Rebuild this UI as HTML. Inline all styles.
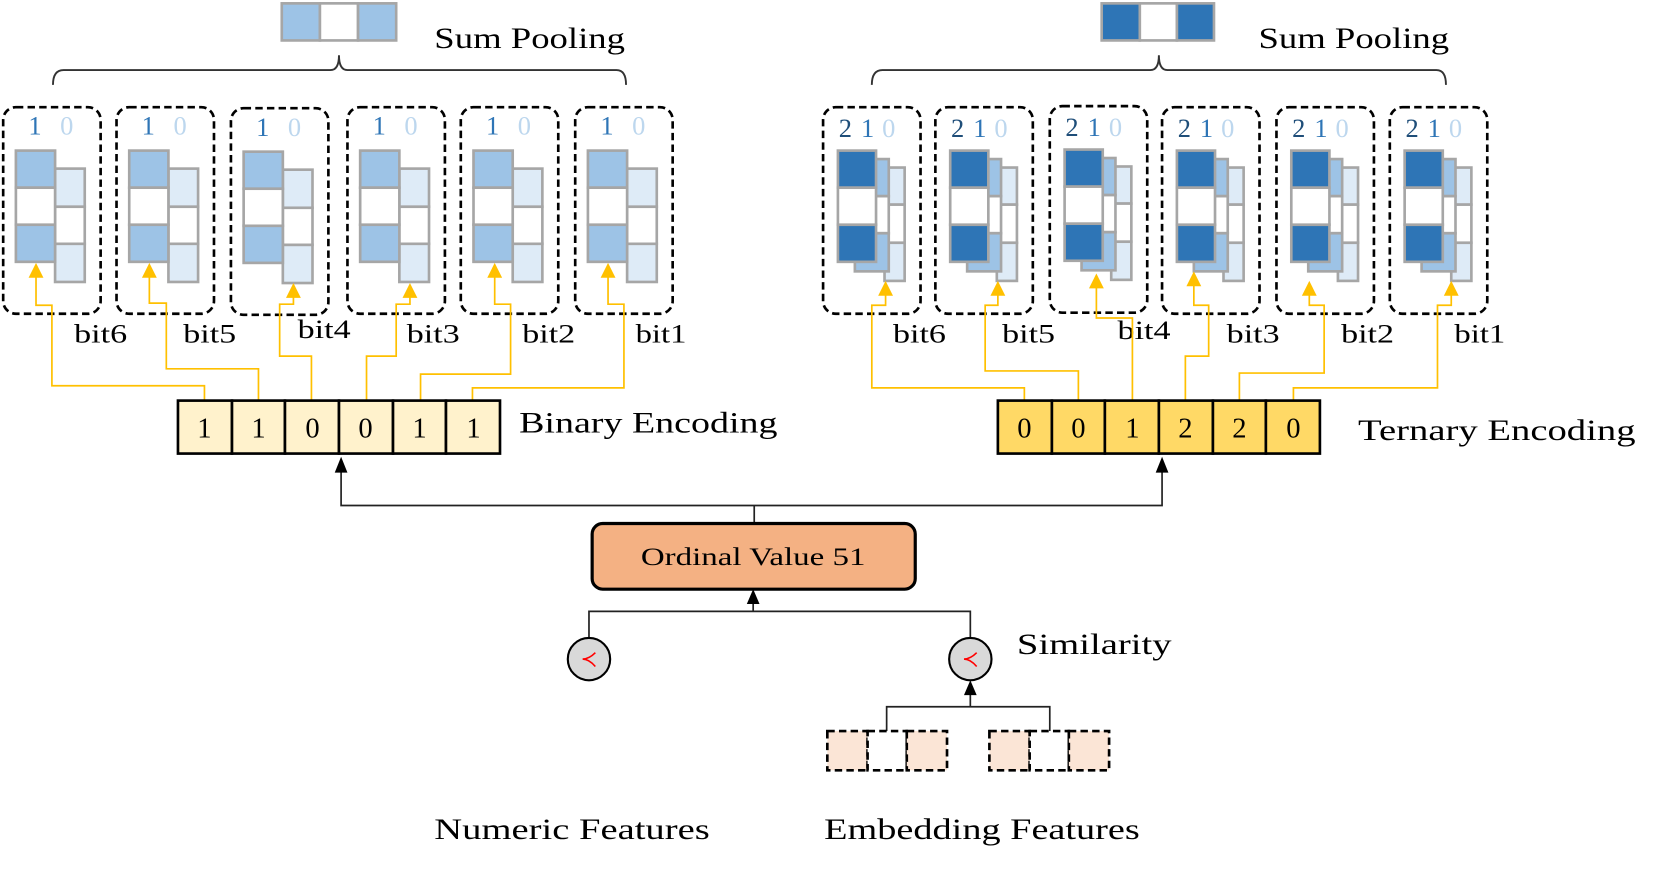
<!DOCTYPE html>
<html><head><meta charset="utf-8"><style>
html,body{margin:0;padding:0;background:#fff;}
svg{display:block;}
text{font-family:"Liberation Serif",serif;}
</style></head><body>
<svg width="1661" height="869" viewBox="0 0 1568 820" xmlns="http://www.w3.org/2000/svg">
<defs>
<g id="lp">
<rect x="0" y="0" width="92" height="195" rx="12" fill="none" stroke="#000" stroke-width="2.5" stroke-dasharray="7,4"/>
<rect x="49" y="58" width="28" height="36" fill="#deebf7" stroke="#a6a6a6" stroke-width="2.5"/>
<rect x="49" y="94" width="28" height="35" fill="#fff" stroke="#a6a6a6" stroke-width="2.5"/>
<rect x="49" y="129" width="28" height="36" fill="#deebf7" stroke="#a6a6a6" stroke-width="2.5"/>
<rect x="12" y="41" width="37" height="35" fill="#9dc3e6" stroke="#a6a6a6" stroke-width="2.5"/>
<rect x="12" y="76" width="37" height="35" fill="#fff" stroke="#a6a6a6" stroke-width="2.5"/>
<rect x="12" y="111" width="37" height="35" fill="#9dc3e6" stroke="#a6a6a6" stroke-width="2.5"/>
</g>
<g id="rp">
<rect x="0" y="0" width="92" height="195" rx="12" fill="none" stroke="#000" stroke-width="2.5" stroke-dasharray="7,4"/>
<rect x="58" y="57" width="19" height="35" fill="#deebf7" stroke="#a6a6a6" stroke-width="2.5"/>
<rect x="58" y="92" width="19" height="36" fill="#fff" stroke="#a6a6a6" stroke-width="2.5"/>
<rect x="58" y="128" width="19" height="36" fill="#deebf7" stroke="#a6a6a6" stroke-width="2.5"/>
<rect x="30" y="49" width="32" height="35" fill="#9dc3e6" stroke="#a6a6a6" stroke-width="2.5"/>
<rect x="30" y="84" width="32" height="35" fill="#fff" stroke="#a6a6a6" stroke-width="2.5"/>
<rect x="30" y="119" width="32" height="36" fill="#9dc3e6" stroke="#a6a6a6" stroke-width="2.5"/>
<rect x="14" y="41" width="36" height="35" fill="#2e75b6" stroke="#a6a6a6" stroke-width="2.5"/>
<rect x="14" y="76" width="36" height="35" fill="#fff" stroke="#a6a6a6" stroke-width="2.5"/>
<rect x="14" y="111" width="36" height="35" fill="#2e75b6" stroke="#a6a6a6" stroke-width="2.5"/>
</g>
<g id="d10"><text x="30" y="26" font-size="25" fill="#2e75b6" text-anchor="middle">1</text><text x="60" y="26" font-size="25" fill="#bdd7ee" text-anchor="middle">0</text></g>
<g id="d210"><text x="21" y="28" font-size="25" fill="#1f4e79" text-anchor="middle">2</text><text x="42" y="28" font-size="25" fill="#2e75b6" text-anchor="middle">1</text><text x="62" y="28" font-size="25" fill="#bdd7ee" text-anchor="middle">0</text></g>
</defs>

<rect x="266" y="3" width="36" height="35" fill="#9dc3e6" stroke="#a6a6a6" stroke-width="2.5"/>
<rect x="302" y="3" width="36" height="35" fill="#fff" stroke="#a6a6a6" stroke-width="2.5"/>
<rect x="338" y="3" width="36" height="35" fill="#9dc3e6" stroke="#a6a6a6" stroke-width="2.5"/>
<text x="410" y="45" font-size="28" textLength="180" lengthAdjust="spacingAndGlyphs">Sum Pooling</text>
<path d="M50 80 Q50 66 60 66 L312 66 Q320 66 320 52 Q320 66 328 66 L582 66 Q591 66 591 80" fill="none" stroke="#333" stroke-width="1.8"/>

<rect x="1040" y="3" width="36" height="35" fill="#2e75b6" stroke="#a6a6a6" stroke-width="2.5"/>
<rect x="1076" y="3" width="35" height="35" fill="#fff" stroke="#a6a6a6" stroke-width="2.5"/>
<rect x="1111" y="3" width="35" height="35" fill="#2e75b6" stroke="#a6a6a6" stroke-width="2.5"/>
<text x="1188" y="45" font-size="28" textLength="180" lengthAdjust="spacingAndGlyphs">Sum Pooling</text>
<path d="M823 80 Q823 66 833 66 L1086 66 Q1094 66 1094 52 Q1094 66 1102 66 L1356 66 Q1365 66 1365 80" fill="none" stroke="#333" stroke-width="1.8"/>

<g transform="translate(3,101)"><use href="#lp"/><use href="#d10"/></g>
<g transform="translate(110,101)"><use href="#lp"/><use href="#d10"/></g>
<g transform="translate(218,102)"><use href="#lp"/><use href="#d10"/></g>
<g transform="translate(328,101)"><use href="#lp"/><use href="#d10"/></g>
<g transform="translate(435,101)"><use href="#lp"/><use href="#d10"/></g>
<g transform="translate(543,101)"><use href="#lp"/><use href="#d10"/></g>

<g transform="translate(777,101)"><use href="#rp"/><use href="#d210"/></g>
<g transform="translate(883,101)"><use href="#rp"/><use href="#d210"/></g>
<g transform="translate(991,100)"><use href="#rp"/><use href="#d210"/></g>
<g transform="translate(1097,101)"><use href="#rp"/><use href="#d210"/></g>
<g transform="translate(1205,101)"><use href="#rp"/><use href="#d210"/></g>
<g transform="translate(1312,101)"><use href="#rp"/><use href="#d210"/></g>

<g font-size="25">
<text x="70" y="323" textLength="50" lengthAdjust="spacingAndGlyphs">bit6</text><text x="173" y="323" textLength="50" lengthAdjust="spacingAndGlyphs">bit5</text><text x="281" y="319" textLength="50" lengthAdjust="spacingAndGlyphs">bit4</text>
<text x="384" y="323" textLength="50" lengthAdjust="spacingAndGlyphs">bit3</text><text x="493" y="323" textLength="50" lengthAdjust="spacingAndGlyphs">bit2</text><text x="600" y="323" textLength="48" lengthAdjust="spacingAndGlyphs">bit1</text>
<text x="843" y="323" textLength="50" lengthAdjust="spacingAndGlyphs">bit6</text><text x="946" y="323" textLength="50" lengthAdjust="spacingAndGlyphs">bit5</text><text x="1055" y="320" textLength="50" lengthAdjust="spacingAndGlyphs">bit4</text>
<text x="1158" y="323" textLength="50" lengthAdjust="spacingAndGlyphs">bit3</text><text x="1266" y="323" textLength="50" lengthAdjust="spacingAndGlyphs">bit2</text><text x="1373" y="323" textLength="48" lengthAdjust="spacingAndGlyphs">bit1</text>
</g>

<g fill="none" stroke="#ffc000" stroke-width="1.6">
<path d="M193 378 V364 H49 V288 H34 V258"/>
<path d="M244 378 V348 H157 V286 H141 V258"/>
<path d="M294 378 V336 H264 V287 H277 V277"/>
<path d="M346 378 V336 H374 V287 H387 V277"/>
<path d="M397 378 V353 H482 V287 H467 V258"/>
<path d="M446 378 V366 H589 V287 H574 V258"/>
<path d="M967 378 V366 H823 V288 H836 V275"/>
<path d="M1018 378 V350 H930 V288 H942 V275"/>
<path d="M1069 378 V300 H1035 V268"/>
<path d="M1119 378 V336 H1141 V288 H1127 V266"/>
<path d="M1170 378 V352 H1250 V288 H1236 V275"/>
<path d="M1221 378 V366 H1357 V288 H1370 V275"/>
</g>
<g fill="#ffc000">
<polygon points="34,248 27,262 41,262"/><polygon points="141,248 134,262 148,262"/>
<polygon points="277,267 270,281 284,281"/><polygon points="387,267 380,281 394,281"/>
<polygon points="467,248 460,262 474,262"/><polygon points="574,248 567,262 581,262"/>
<polygon points="836,265 829,279 843,279"/><polygon points="942,265 935,279 949,279"/>
<polygon points="1035,258 1028,272 1042,272"/><polygon points="1127,256 1120,270 1134,270"/>
<polygon points="1236,265 1229,279 1243,279"/><polygon points="1370,265 1363,279 1377,279"/>
</g>

<g stroke="#000" stroke-width="2.5" fill="#fff2cc">
<rect x="168" y="378" width="51" height="50"/><rect x="219" y="378" width="50" height="50"/><rect x="269" y="378" width="51" height="50"/>
<rect x="320" y="378" width="51" height="50"/><rect x="371" y="378" width="50" height="50"/><rect x="421" y="378" width="51" height="50"/>
</g>
<g font-size="27" text-anchor="middle">
<text x="193" y="413">1</text><text x="244" y="413">1</text><text x="295" y="413">0</text><text x="345" y="413">0</text><text x="396" y="413">1</text><text x="447" y="413">1</text>
</g>
<text x="490" y="408" font-size="28" textLength="244" lengthAdjust="spacingAndGlyphs">Binary Encoding</text>

<g stroke="#000" stroke-width="2.5" fill="#ffd966">
<rect x="942" y="378" width="51" height="50"/><rect x="993" y="378" width="50" height="50"/><rect x="1043" y="378" width="51" height="50"/>
<rect x="1094" y="378" width="51" height="50"/><rect x="1145" y="378" width="50" height="50"/><rect x="1195" y="378" width="51" height="50"/>
</g>
<g font-size="27" text-anchor="middle">
<text x="967" y="413">0</text><text x="1018" y="413">0</text><text x="1069" y="413">1</text><text x="1119" y="413">2</text><text x="1170" y="413">2</text><text x="1221" y="413">0</text>
</g>
<text x="1282" y="415" font-size="28" textLength="262" lengthAdjust="spacingAndGlyphs">Ternary Encoding</text>

<g fill="none" stroke="#222" stroke-width="1.6">
<path d="M712 494 V477 M322 441 V477 H1097 V441"/>
<path d="M711 567 V577 M556 602 V577 H916 V602"/>
<path d="M916 652 V667 M837 690 V667 H991 V690"/>
</g>
<g fill="#000">
<polygon points="322,431 316,446 328,446"/><polygon points="1097,431 1091,446 1103,446"/>
<polygon points="711,556 705,570 717,570"/><polygon points="916,642 910,656 922,656"/>
</g>

<rect x="559" y="494" width="305" height="62" rx="10" fill="#f4b183" stroke="#000" stroke-width="3"/>
<text x="605" y="533" font-size="24" textLength="212" lengthAdjust="spacingAndGlyphs">Ordinal Value 51</text>

<circle cx="556" cy="622" r="20" fill="#d9d9d9" stroke="#000" stroke-width="2"/>
<circle cx="916" cy="622" r="20" fill="#d9d9d9" stroke="#000" stroke-width="2"/>
<path d="M562 616 Q556 622 550 622 Q556 622 562 629" fill="none" stroke="#f00" stroke-width="1.5"/>
<path d="M922 616 Q916 622 910 622 Q916 622 922 629" fill="none" stroke="#f00" stroke-width="1.5"/>
<text x="960" y="617" font-size="28" textLength="146" lengthAdjust="spacingAndGlyphs">Similarity</text>

<g stroke="#000" stroke-width="2.5" stroke-dasharray="7,4">
<rect x="781" y="690" width="38" height="37" fill="#fbe5d6"/><rect x="819" y="690" width="37" height="37" fill="#fff"/><rect x="856" y="690" width="38" height="37" fill="#fbe5d6"/>
<rect x="934" y="690" width="38" height="37" fill="#fbe5d6"/><rect x="972" y="690" width="37" height="37" fill="#fff"/><rect x="1009" y="690" width="38" height="37" fill="#fbe5d6"/>
</g>

<text x="410" y="792" font-size="28" textLength="260" lengthAdjust="spacingAndGlyphs">Numeric Features</text>
<text x="778" y="792" font-size="28" textLength="298" lengthAdjust="spacingAndGlyphs">Embedding Features</text>
</svg>
</body></html>
